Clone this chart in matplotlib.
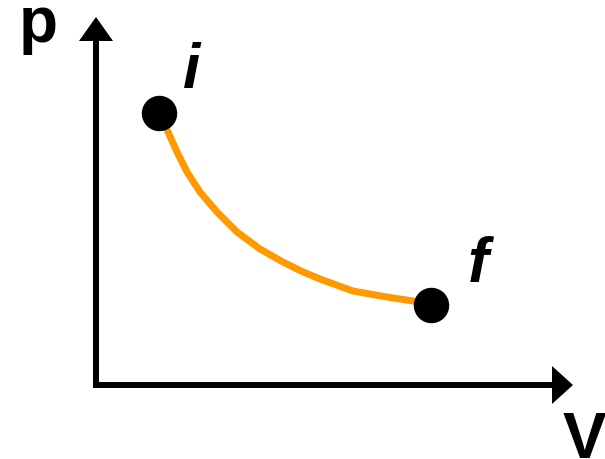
import matplotlib
matplotlib.use("Agg")
import matplotlib.pyplot as plt

# Process path on the p-V diagram (arbitrary units, origin at the axes corner)
V_path = [1.28, 1.46, 1.64, 1.84, 2.10, 2.44, 2.84, 3.30, 3.76, 4.12, 4.50, 5.16, 5.84, 6.36, 6.72]
p_path = [5.44, 5.06, 4.66, 4.26, 3.86, 3.46, 3.06, 2.72, 2.46, 2.28, 2.12, 1.88, 1.76, 1.68, 1.60]

# Initial and final states
state_labels = ["i", "f"]
V_states = [1.28, 6.72]
p_states = [5.44, 1.60]

plt.rcParams["font.family"] = ["Liberation Sans", "DejaVu Sans"]

fig = plt.figure(figsize=(6.05, 4.60), dpi=100)
ax = fig.add_axes([0, 0, 1, 1])
ax.set_xlim(-1.90, 10.20)
ax.set_ylim(-1.48, 7.72)
ax.set_aspect("equal")
ax.axis("off")

# Axes drawn as thick arrows
ax.arrow(0.02, -0.06, 0, 7.42, width=0.12, head_width=0.68, head_length=0.48,
         length_includes_head=True, color="black", lw=0)
ax.arrow(-0.04, 0.0, 9.60, 0, width=0.12, head_width=0.76, head_length=0.42,
         length_includes_head=True, color="black", lw=0)

ax.text(-1.14, 6.88, "p", fontsize=46, fontweight="bold", ha="center", va="baseline")
ax.text(9.78, -1.44, "V", fontsize=47, fontweight="bold", ha="center", va="baseline")

# Curve and state points
ax.plot(V_path, p_path, color="#FF9900", lw=5.0, solid_capstyle="round",
        solid_joinstyle="round", zorder=2)
ax.plot(V_states, p_states, "o", color="black", markersize=24.5, zorder=3)

label_offsets = [(0.66, 0.52), (0.94, 0.48)]
for name, v, p, (dx, dy) in zip(state_labels, V_states, p_states, label_offsets):
    ax.text(v + dx, p + dy, name, fontsize=45, fontweight="bold", fontstyle="italic",
            ha="center", va="baseline")

fig.savefig("out.png", dpi=100)
